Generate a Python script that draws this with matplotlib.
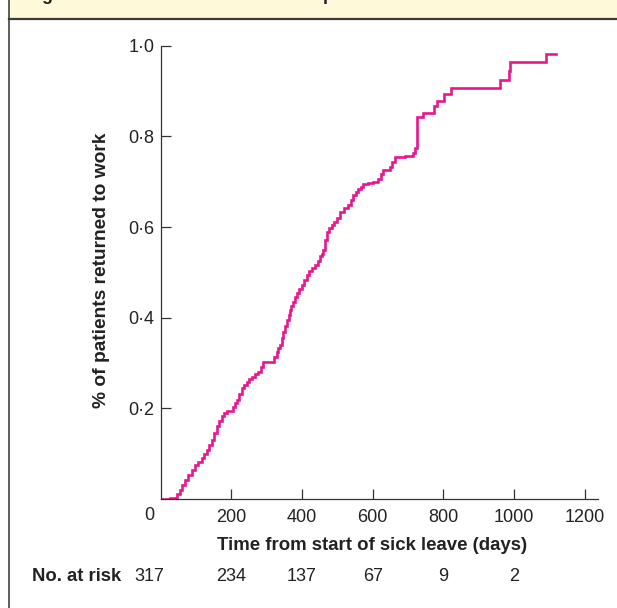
import matplotlib
matplotlib.use("Agg")
import matplotlib.pyplot as plt
from matplotlib.patches import Rectangle
from matplotlib.lines import Line2D

plt.rcParams['font.family'] = ['Liberation Sans', 'DejaVu Sans']

# Kaplan-Meier steps: time (days), proportion returned
days = [0, 27, 47, 55, 60, 70, 78, 88, 97, 106, 116, 123, 130, 138, 145,
        152, 159, 166, 173, 180, 187, 204, 210, 215, 222, 229, 236, 244,
        251, 258, 267, 276, 284, 291, 322, 328, 333, 338, 343, 347, 352,
        357, 362, 366, 370, 374, 380, 385, 392, 399, 406, 413, 420, 427,
        437, 446, 451, 456, 460, 465, 470, 477, 484, 491, 498, 507, 519,
        531, 538, 545, 552, 559, 566, 573, 587, 602, 616, 623, 630, 649,
        656, 663, 691, 715, 720, 726, 741, 772, 781, 802, 821, 960, 986,
        988, 1089, 1118]
returned = [0.0, 0.003, 0.01, 0.02, 0.031, 0.042, 0.053, 0.064, 0.075,
            0.082, 0.09, 0.099, 0.108, 0.119, 0.13, 0.145, 0.16, 0.171,
            0.182, 0.189, 0.195, 0.204, 0.211, 0.218, 0.231, 0.244, 0.251,
            0.259, 0.265, 0.27, 0.276, 0.281, 0.292, 0.303, 0.314, 0.325,
            0.333, 0.34, 0.355, 0.369, 0.382, 0.395, 0.406, 0.417, 0.426,
            0.435, 0.445, 0.454, 0.463, 0.472, 0.483, 0.494, 0.502, 0.509,
            0.516, 0.524, 0.535, 0.54, 0.549, 0.571, 0.59, 0.597, 0.604,
            0.611, 0.619, 0.634, 0.641, 0.649, 0.66, 0.671, 0.677, 0.683,
            0.689, 0.695, 0.698, 0.700, 0.707, 0.716, 0.726, 0.732, 0.743,
            0.754, 0.757, 0.764, 0.774, 0.842, 0.852, 0.866, 0.879, 0.893,
            0.907, 0.924, 0.945, 0.963, 0.981, 0.981]

ytick_vals = [0.2, 0.4, 0.6, 0.8, 1.0]
ytick_labels = ['0\u00b72', '0\u00b74', '0\u00b76', '0\u00b78', '1\u00b70']
xtick_vals = [200, 400, 600, 800, 1000, 1200]
risk_days = [0, 200, 400, 600, 800, 1000]
at_risk = [317, 234, 137, 67, 9, 2]

W, H = 617, 608
fig = plt.figure(figsize=(W / 100, H / 100), dpi=100)

# cropped header band and left frame line
fig.patches.append(Rectangle((9 / W, 1 - 18 / H), 1, 18 / H, transform=fig.transFigure,
                             facecolor='#fef9d9', edgecolor='none'))
fig.lines.append(Line2D([9 / W, 1], [1 - 19 / H, 1 - 19 / H], transform=fig.transFigure,
                        color='#3a3a3a', lw=1.6))
fig.lines.append(Line2D([8.5 / W, 8.5 / W], [0, 1], transform=fig.transFigure,
                        color='#333333', lw=1.1))
# only the descenders of the header title show in the reference
fig.text(27 / W, 1 + 0.5 / H, 'Fig', fontsize=13, fontweight='bold', color='#222222',
         va='baseline', ha='left')
fig.text(323 / W, 1 + 0.5 / H, 'p', fontsize=13, fontweight='bold', color='#222222',
         va='baseline', ha='left')

x0, x1 = 160.6, 598
y0, y1 = 499, 45.7
ax = fig.add_axes([x0 / W, 1 - y0 / H, (x1 - x0) / W, (y0 - y1) / H])
ax.step(days, returned, where='post', color='#e8168c', lw=1.9, solid_joinstyle='miter')

ax.set_xlim(0, (x1 - x0) * 200 / 70.7)
ax.set_ylim(0, 1.0)
for s in ['top', 'right']:
    ax.spines[s].set_visible(False)
for s in ['left', 'bottom']:
    ax.spines[s].set_color('#333333')
    ax.spines[s].set_linewidth(0.9)

ax.set_yticks(ytick_vals)
ax.set_yticklabels(ytick_labels)
ax.set_xticks(xtick_vals)
ax.tick_params(axis='both', direction='in', length=7, width=0.9, color='#333333',
               labelsize=13, labelcolor='#222222')
ax.tick_params(axis='y', pad=4.5)
ax.tick_params(axis='x', pad=7)

ax.annotate('0', xy=(0, 0), xycoords=('data', 'axes fraction'), xytext=(-11.5, -16),
            textcoords='offset pixels', ha='center', va='center', fontsize=13,
            color='#222222')

ax.set_xlabel('Time from start of sick leave (days)', fontsize=13.4, fontweight='bold',
              color='#222222', va='center')
ax.xaxis.set_label_coords((372 - x0) / (x1 - x0), -(545 - y0) / (y0 - y1))
ax.set_ylabel('% of patients returned to work', fontsize=13.8, fontweight='bold',
              color='#222222', va='center')
ax.yaxis.set_label_coords((101 - x0) / (x1 - x0), (y0 - 270) / (y0 - y1))

for d, n in zip(risk_days, at_risk):
    dx = -11.5 if d == 0 else 0
    ax.annotate(str(n), xy=(d, 0), xycoords=('data', 'axes fraction'),
                xytext=(dx, -(576.7 - y0)), textcoords='offset pixels',
                ha='center', va='center', fontsize=13, color='#222222',
                annotation_clip=False)
fig.text(121.7 / W, 1 - 576.7 / H, 'No. at risk', fontsize=13.3, fontweight='bold',
         color='#222222', ha='right', va='center')

fig.savefig('out.png', dpi=100)
